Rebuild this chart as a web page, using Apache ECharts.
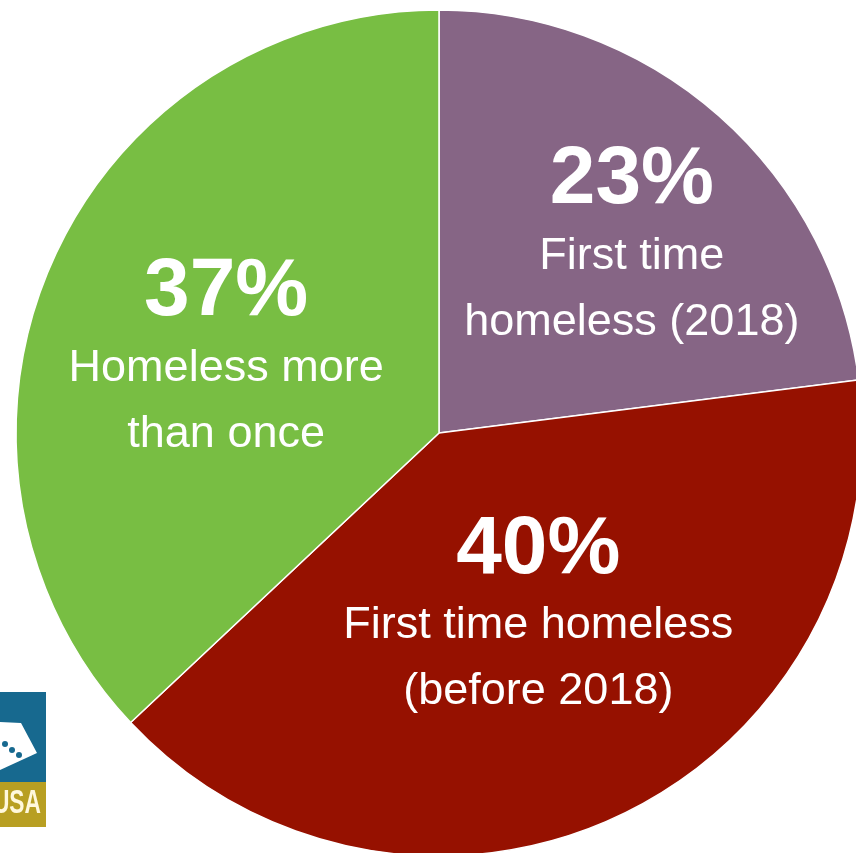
<!DOCTYPE html>
<html>
<head>
<meta charset="utf-8">
<style>
html,body{margin:0;padding:0;background:#fff;}
#c{width:856px;height:853px;}
</style>
<script src="https://cdn.jsdelivr.net/npm/echarts@6/dist/echarts.min.js"></script>
</head>
<body>
<div id="c"></div>
<script>
// Data
const categories = ['First time\nhomeless (2018)', 'First time homeless\n(before 2018)', 'Homeless more\nthan once'];
const values = [23, 40, 37];
const colors = ['#866585', '#961100', '#78BE43'];

const labelShift = [[51, -26], [8, -11], [-16, 11]];

const chart = echarts.init(document.getElementById('c'), null, {renderer: 'canvas'});
chart.setOption({
  backgroundColor: '#ffffff',
  animation: false,
  series: [{
    type: 'pie',
    center: [439, 433],
    radius: 423,
    startAngle: 90,
    clockwise: true,
    avoidLabelOverlap: false,
    itemStyle: {borderColor: '#ffffff', borderWidth: 1.5},
    emphasis: {disabled: true},
    label: {
      show: true,
      position: 'inside',
      color: '#ffffff',
      fontFamily: 'Liberation Sans, Arial, sans-serif',
      formatter: function (p) {
        const lines = p.name.split('\n').map(function (l) { return '{b|' + l + '}'; });
        return '{p|' + p.value + '%}\n' + lines.join('\n');
      },
      rich: {
        p: {fontSize: 82, fontWeight: 'bold', lineHeight: 86, color: '#ffffff', fontFamily: 'Liberation Sans, Arial, sans-serif', align: 'center'},
        b: {fontSize: 45, lineHeight: 66, color: '#ffffff', fontFamily: 'Liberation Sans, Arial, sans-serif', align: 'center'}
      }
    },
    labelLine: {show: false},
    labelLayout: function (params) {
      const s = labelShift[params.dataIndex];
      return {dx: s[0], dy: s[1]};
    },
    data: categories.map(function (c, i) {
      return {name: c, value: values[i], itemStyle: {color: colors[i]}};
    })
  }],
  graphic: [
    {type: 'rect', shape: {x: 0, y: 692, width: 46, height: 90}, style: {fill: '#17698F'}},
    {type: 'rect', shape: {x: 0, y: 782, width: 46, height: 45}, style: {fill: '#B89F22'}},
    {type: 'polygon', shape: {points: [[0, 722], [21, 723], [37, 753], [0, 770]]}, style: {fill: '#ffffff'}},
    {type: 'circle', shape: {cx: 5, cy: 744, r: 3}, style: {fill: '#17698F'}},
    {type: 'circle', shape: {cx: 12, cy: 750, r: 3}, style: {fill: '#17698F'}},
    {type: 'circle', shape: {cx: 19, cy: 755, r: 3}, style: {fill: '#17698F'}},
    {type: 'text', x: 41, y: 821, scaleX: 0.67, style: {text: 'USA', x: 0, y: 0, align: 'right', verticalAlign: 'bottom', fill: '#FFF8DC', font: 'bold 34px "Liberation Sans", sans-serif'}}
  ]
});
</script>
</body>
</html>
